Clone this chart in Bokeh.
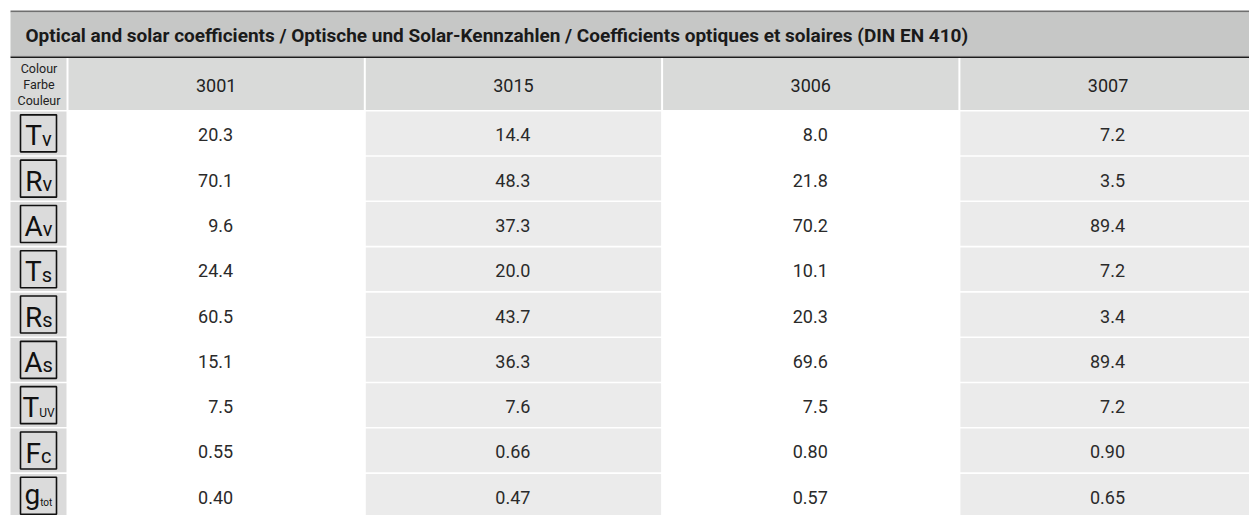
from bokeh.plotting import figure
from bokeh.models import Range1d, ColumnDataSource
from bokeh.core.properties import value
from bokeh.embed import file_html
from bokeh.resources import INLINE

# ---------------- data ----------------
title = "Optical and solar coefficients / Optische und Solar-Kennzahlen / Coefficients optiques et solaires (DIN EN 410)"
header_label = ["Colour", "Farbe", "Couleur"]
colours = ["3001", "3015", "3006", "3007"]
sym_main = ["T", "R", "A", "T", "R", "A", "T", "F", "g"]
sym_sub = ["v", "v", "v", "s", "s", "s", "UV", "c", "tot"]
decimals = [1, 1, 1, 1, 1, 1, 1, 2, 2]
v3001 = [20.3, 70.1, 9.6, 24.4, 60.5, 15.1, 7.5, 0.55, 0.40]
v3015 = [14.4, 48.3, 37.3, 20.0, 43.7, 36.3, 7.6, 0.66, 0.47]
v3006 = [8.0, 21.8, 70.2, 10.1, 20.3, 69.6, 7.5, 0.80, 0.57]
v3007 = [7.2, 3.5, 89.4, 7.2, 3.4, 89.4, 7.2, 0.90, 0.65]
series = [v3001, v3015, v3006, v3007]

# ---------------- layout ----------------
W, H = 1249, 515
X0 = 10.0
LABEL_R = 67.0
COL_W = 297.3
ROW_TOP = 111.0
ROW_H = 45.3
FONT = "Roboto"

p = figure(width=W, height=H, output_backend="svg", toolbar_location=None,
           x_range=Range1d(0, W), y_range=Range1d(H, 0),
           x_axis_type=None, y_axis_type=None, min_border=0,
           background_fill_color="white", border_fill_color="white")
p.outline_line_color = None
p.grid.visible = False

RIGHT = 1260

# title band
p.quad(left=[X0], right=[RIGHT], top=[10], bottom=[12], fill_color="#6f6f6f", line_color=None)
p.quad(left=[X0], right=[RIGHT], top=[12], bottom=[55], fill_color="#c6c7c6", line_color=None)
p.quad(left=[X0], right=[RIGHT], top=[55], bottom=[56], fill_color="#9c9c9c", line_color=None)
p.quad(left=[X0], right=[RIGHT], top=[56], bottom=[57.5], fill_color="#1c1c1c", line_color=None)
p.text(x=[25], y=[34.5], text=[title], text_font=value(FONT), text_font_style="bold",
       text_font_size="19px", text_color="#1a1a1a", text_baseline="middle", text_align="left")

# column geometry
col_left = [LABEL_R + i * COL_W for i in range(len(colours))]
col_center = [l + COL_W / 2 for l in col_left]

# header row cells
hl = [X0] + [l + 1 for l in col_left]
hr = [LABEL_R - 1] + [l + COL_W - 1 for l in col_left]
p.quad(left=hl, right=hr, top=[57.5] * len(hl), bottom=[109.5] * len(hl),
       fill_color="#d9dad9", line_color=None)
p.text(x=col_center, y=[85] * len(colours), text=colours, text_font=value(FONT),
       text_font_size="18px", text_color="#222222", text_baseline="middle", text_align="center")
p.text(x=[38.5] * 3, y=[68, 84, 100], text=header_label, text_font=value(FONT),
       text_font_size="12.5px", text_color="#222222", text_baseline="middle", text_align="center")

# data rows
n = len(sym_main)
row_top = [ROW_TOP + i * ROW_H for i in range(n)]
row_bot = [t + ROW_H - 1.6 for t in row_top]
row_mid = [(t + b) / 2 for t, b in zip(row_top, row_bot)]

# label column cells
p.quad(left=[X0] * n, right=[LABEL_R - 1] * n, top=row_top, bottom=row_bot,
       fill_color="#dbdbdb", line_color=None)
# data cells (alternating white / light grey columns)
for ci, l in enumerate(col_left):
    fill = "#ffffff" if ci % 2 == 0 else "#ebebeb"
    p.quad(left=[l + 1] * n, right=[l + COL_W - 1] * n, top=row_top, bottom=row_bot,
           fill_color=fill, line_color=None)
    txt = [f"{v:.{d}f}" for v, d in zip(series[ci], decimals)]
    p.text(x=[col_center[ci] + 17] * n, y=[m + 1.5 for m in row_mid], text=txt,
           text_font=value(FONT), text_font_size="18px", text_color="#2a2a2a",
           text_baseline="middle", text_align="right")

# symbol boxes
p.rect(x=[38] * n, y=row_mid, width=[36] * n, height=[37] * n,
       fill_color=None, line_color="#111111", line_width=1.6)

# approximate glyph widths (em) for centering the symbols
gw = {"T": 0.60, "R": 0.63, "A": 0.65, "F": 0.55, "g": 0.56,
      "v": 0.49, "s": 0.51, "c": 0.52, "U": 0.64, "V": 0.64, "t": 0.33, "o": 0.57}
MAIN_FS, SUB_FS, UV_FS, TOT_FS = 28, 20, 12, 10
K = 0.355  # middle-baseline offset factor
split, sub_fs, sub_y, main_y = [], [], [], []
for m, s, rm in zip(sym_main, sym_sub, row_mid):
    base = rm + 12.5
    if s == "UV":
        fs = UV_FS; dy = 0
    elif s == "tot":
        fs = TOT_FS; dy = 2
    else:
        fs = SUB_FS; dy = 0
    if m == "g":
        base = rm + 8.5
    wm = gw[m] * MAIN_FS
    ws = sum(gw[c] for c in s) * fs
    split.append(38 - (wm + ws) / 2 + wm)
    sub_fs.append(f"{fs}px")
    main_y.append(base - K * MAIN_FS)
    sub_y.append(base + dy - K * fs)

p.text(x=split, y=main_y, text=sym_main, text_font=value(FONT), text_font_size=f"{MAIN_FS}px",
       text_color="#111111", text_baseline="middle", text_align="right")
src = ColumnDataSource(dict(x=split, y=sub_y, t=sym_sub, fs=sub_fs))
p.text(x="x", y="y", text="t", source=src, text_font=value(FONT), text_font_size="fs",
       text_color="#111111", text_baseline="middle", text_align="left")

open("out.html", "w").write(file_html(p, INLINE))
